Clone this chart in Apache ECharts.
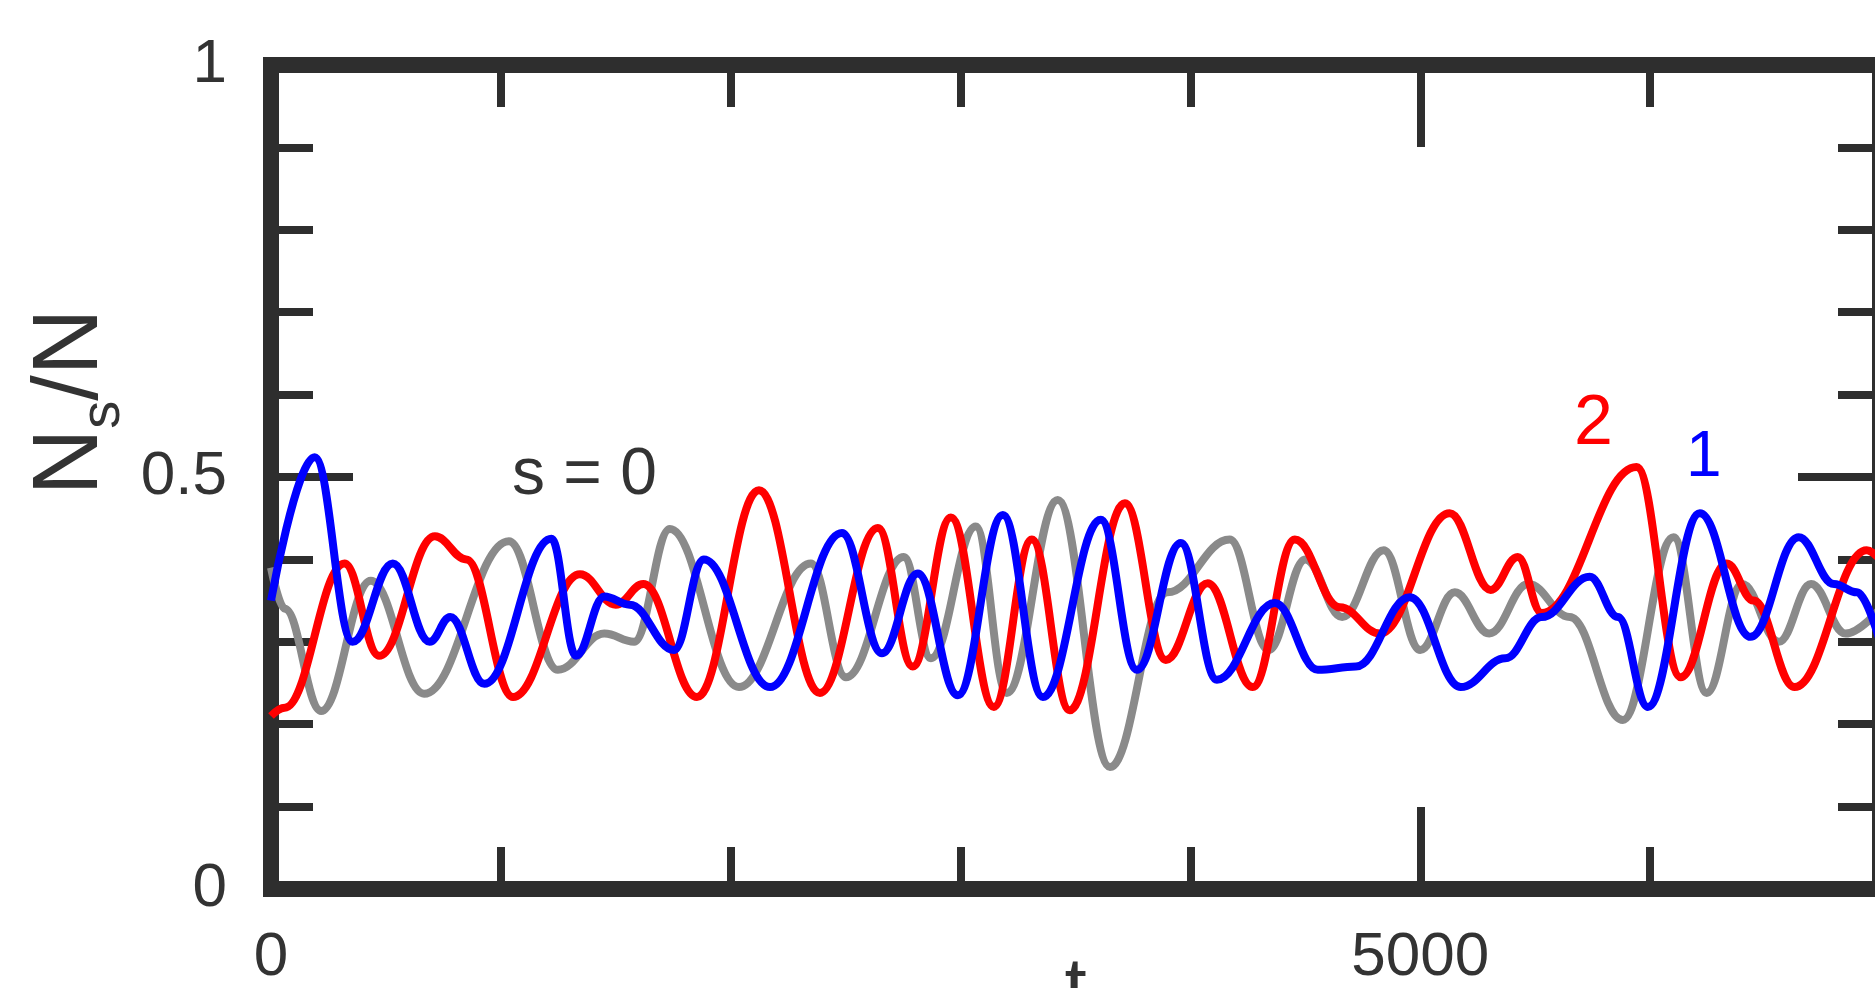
<!DOCTYPE html>
<html>
<head>
<meta charset="utf-8">
<title>Ns/N</title>
<script src="https://cdn.jsdelivr.net/npm/echarts@6/dist/echarts.min.js"></script>
<style>
  html, body { margin: 0; padding: 0; background: #ffffff; }
  #chart-container { width: 1875px; height: 988px; }
</style>
</head>
<body>
<div id="chart-container"></div>
<script>
// valores: [x, Ns/N]
const serieGris = [
  [0, 0.39], [60, 0.34], [218, 0.216], [434, 0.374], [666, 0.237], [1035, 0.422],
  [1248, 0.266], [1450, 0.31], [1580, 0.3], [1735, 0.437], [2036, 0.245], [2349, 0.395],
  [2501, 0.257], [2753, 0.403], [2871, 0.28], [3066, 0.44], [3201, 0.238], [3423, 0.472],
  [3650, 0.148], [3900, 0.36], [4171, 0.424], [4340, 0.29], [4500, 0.4], [4660, 0.33],
  [4841, 0.411], [5000, 0.29], [5150, 0.36], [5300, 0.31], [5470, 0.37], [5650, 0.33],
  [5881, 0.205], [6102, 0.427], [6246, 0.238], [6400, 0.37], [6560, 0.3], [6700, 0.37],
  [6850, 0.31], [7000, 0.34],
];

const serieAzul = [
  [0, 0.35], [190, 0.524], [355, 0.3], [530, 0.395], [690, 0.3], [780, 0.33], [928, 0.249],
  [1220, 0.425], [1327, 0.283], [1450, 0.355], [1560, 0.345], [1753, 0.29], [1883, 0.4],
  [2171, 0.245], [2484, 0.432], [2658, 0.286], [2814, 0.383], [2988, 0.235], [3184, 0.454],
  [3358, 0.233], [3610, 0.448], [3767, 0.266], [3958, 0.42], [4115, 0.254], [4367, 0.347],
  [4554, 0.266], [4720, 0.27], [4954, 0.354], [5176, 0.245], [5370, 0.28], [5528, 0.33],
  [5737, 0.379], [5860, 0.33], [5990, 0.221], [6216, 0.456], [6437, 0.306], [6646, 0.427],
  [6800, 0.37], [6900, 0.36], [7000, 0.3],
];

const serieRoja = [
  [0, 0.21], [60, 0.22], [320, 0.395], [470, 0.283], [713, 0.428], [850, 0.4], [1053, 0.233],
  [1344, 0.382], [1500, 0.345], [1620, 0.37], [1853, 0.233], [2123, 0.484], [2388, 0.238],
  [2640, 0.438], [2792, 0.27], [2958, 0.451], [3145, 0.221], [3310, 0.424], [3475, 0.217],
  [3715, 0.468], [3893, 0.278], [4075, 0.371], [4271, 0.245], [4454, 0.424], [4650, 0.342],
  [4824, 0.31], [5128, 0.456], [5306, 0.363], [5424, 0.403], [5528, 0.335], [5941, 0.512],
  [6133, 0.257], [6333, 0.395], [6450, 0.35], [6628, 0.245], [6942, 0.411], [7000, 0.4],
];

const etiquetasX = [0, 5000];
const etiquetasY = [0, 0.5, 1];

const colorEje = "#2e2e2e";
const colorTexto = "#333333";
const fuente = "Liberation Sans, Arial, sans-serif";

function ejeX(posicion, intervalo, largo, conEtiquetas) {
  return {
    type: "value",
    position: posicion,
    min: 0,
    max: 7000,
    interval: intervalo,
    axisLine: { show: true, onZero: false, lineStyle: { color: colorEje, width: 16, cap: "square" } },
    axisTick: { show: true, inside: true, length: largo, lineStyle: { color: colorEje, width: 8 } },
    axisLabel: {
      show: conEtiquetas,
      margin: 38,
      fontSize: 62,
      color: colorTexto,
      fontFamily: fuente,
      showMaxLabel: false,
      formatter: function (v) {
        return etiquetasX.includes(v) ? String(v) : "";
      },
    },
    splitLine: { show: false },
  };
}

function ejeY(posicion, intervalo, largo, conEtiquetas) {
  return {
    type: "value",
    position: posicion,
    min: 0,
    max: 1,
    interval: intervalo,
    axisLine: { show: true, onZero: false, lineStyle: { color: colorEje, width: 16, cap: "square" } },
    axisTick: { show: true, inside: true, length: largo, lineStyle: { color: colorEje, width: 8 } },
    axisLabel: {
      show: conEtiquetas,
      margin: 44,
      fontSize: 62,
      color: colorTexto,
      fontFamily: fuente,
      formatter: function (v) {
        return etiquetasY.includes(v) ? String(v) : "";
      },
    },
    splitLine: { show: false },
  };
}

// el titulo del eje x queda cortado por el borde inferior, solo asoma su parte alta
const ejeInferior = ejeX("bottom", 5000, 82, true);
ejeInferior.name = "t";
ejeInferior.nameLocation = "middle";
ejeInferior.nameGap = 62;
ejeInferior.nameMoveOverlap = false;
ejeInferior.nameTextStyle = { fontSize: 80, color: colorTexto, fontFamily: fuente };

function linea(nombre, datos, color) {
  return {
    name: nombre,
    type: "line",
    xAxisIndex: 0,
    yAxisIndex: 0,
    data: datos,
    showSymbol: false,
    smooth: 0.4,
    smoothMonotone: "x",
    silent: true,
    lineStyle: { color: color, width: 8 },
  };
}

var option = {
  animation: false,
  backgroundColor: "#ffffff",
  grid: { left: 271, top: 65, width: 1609, height: 824, containLabel: false, outerBoundsMode: "none" },
  xAxis: [ejeX("bottom", 1000, 42, false), ejeInferior, ejeX("top", 1000, 42, false), ejeX("top", 5000, 82, false)],
  yAxis: [ejeY("left", 0.1, 42, false), ejeY("left", 0.5, 82, true), ejeY("right", 0.1, 42, false), ejeY("right", 0.5, 82, false)],
  series: [linea("s = 0", serieGris, "#8a8a8a"), linea("2", serieRoja, "#ff0000"), linea("1", serieAzul, "#0000ff")],
  graphic: [
    {
      type: "text",
      x: 72,
      y: 402,
      rotation: Math.PI / 2,
      style: {
        text: "{n|N}{s|s}{n|/N}",
        align: "center",
        verticalAlign: "middle",
        fill: colorTexto,
        rich: {
          n: { fontSize: 92, fontFamily: fuente, fill: colorTexto, lineHeight: 92, verticalAlign: "top" },
          s: { fontSize: 56, fontFamily: fuente, fill: colorTexto, lineHeight: 56, verticalAlign: "top", padding: [50, 0, 0, 0] },
        },
      },
    },
    { type: "text", left: 512, top: 443, style: { text: "s = 0", fontSize: 66, fontFamily: fuente, fill: colorTexto } },
    { type: "text", left: 1574, top: 390, style: { text: "2", fontSize: 70, fontFamily: fuente, fill: "#ff0000" } },
    { type: "text", left: 1686, top: 426, style: { text: "1", fontSize: 64, fontFamily: fuente, fill: "#0000ff" } },
  ],
};

var dom = document.getElementById("chart-container");
var myChart = echarts.init(dom, null, { renderer: "canvas" });
myChart.setOption(option, true);
window.addEventListener("resize", myChart.resize);
</script>
</body>
</html>
